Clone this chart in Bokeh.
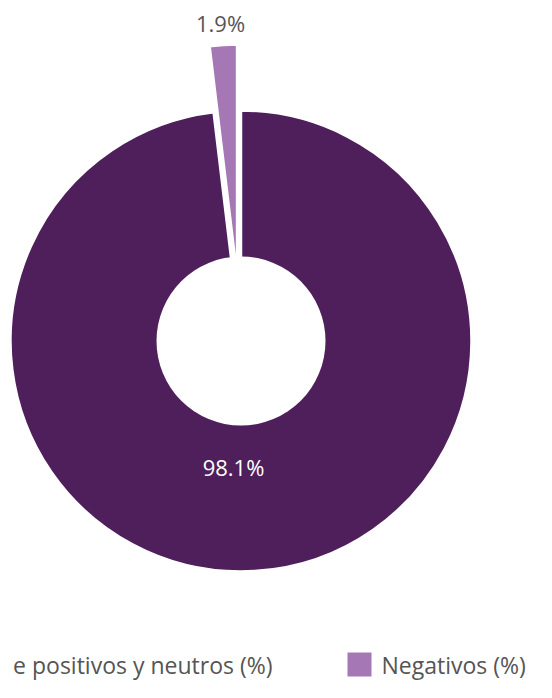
import numpy as np
from bokeh.plotting import figure
from bokeh.models import Range1d
from bokeh.core.properties import value
from bokeh.embed import file_html
from bokeh.resources import INLINE

# ---- data ----
categories = ["Positivos y neutros", "Negativos"]
shares = [98.1, 1.9]
slice_labels = ["98.1%", "1.9%"]
legend_labels = ["e positivos y neutros (%)", "Negativos (%)"]
colors = ["#4F1F5C", "#A677B5"]

# ---- layout constants (reference pixel space, y measured upward) ----
REF_H = 698
W, H = 536, 682
cx, cy = 240.5, REF_H - 340.5
outer_r, inner_r = 230.5, 84.5
explode = [0, 66]
label_pos = [(233, REF_H - 466), (220, REF_H - 22)]
label_colors = ["white", "#555555"]
FONT = "Open Sans"

p = figure(width=W, height=H, x_range=Range1d(0, W), y_range=Range1d(REF_H - H, REF_H),
           output_backend="svg", toolbar_location=None, x_axis_type=None, y_axis_type=None,
           min_border=0, outline_line_color=None, background_fill_color="white")
p.grid.visible = False

vals = np.array(shares, dtype=float)
frac = vals / vals.sum()
cum = np.concatenate([[0], np.cumsum(frac)])
starts = np.pi / 2 - 2 * np.pi * cum[:-1]
ends = np.pi / 2 - 2 * np.pi * cum[1:]
mids = (starts + ends) / 2

for i in range(len(shares)):
    x0 = cx + explode[i] * np.cos(mids[i])
    y0 = cy + explode[i] * np.sin(mids[i])
    p.wedge(x=[x0], y=[y0], radius=outer_r, start_angle=[starts[i]], end_angle=[ends[i]],
            direction="clock", fill_color=colors[i], line_color="white", line_width=2.5)

# donut hole
p.circle(x=[cx], y=[cy], radius=inner_r, fill_color="white", line_color=None)

# slice labels
for i in range(len(shares)):
    p.text(x=[label_pos[i][0]], y=[label_pos[i][1]], text=[slice_labels[i]],
           text_font=value(FONT), text_font_size="22px", text_color=label_colors[i],
           text_align="center", text_baseline="middle")

# legend (drawn manually)
leg_y = REF_H - 664
p.rect(x=[359], y=[leg_y], width=24, height=24, fill_color=colors[1], line_color=None)
p.text(x=[272], y=[leg_y], text=[legend_labels[0]], text_font=value(FONT), text_font_size="23px",
       text_color="#555555", text_align="right", text_baseline="middle")
p.text(x=[381], y=[leg_y], text=[legend_labels[1]], text_font=value(FONT), text_font_size="23px",
       text_color="#555555", text_align="left", text_baseline="middle")

open("out.html", "w").write(file_html(p, INLINE))
